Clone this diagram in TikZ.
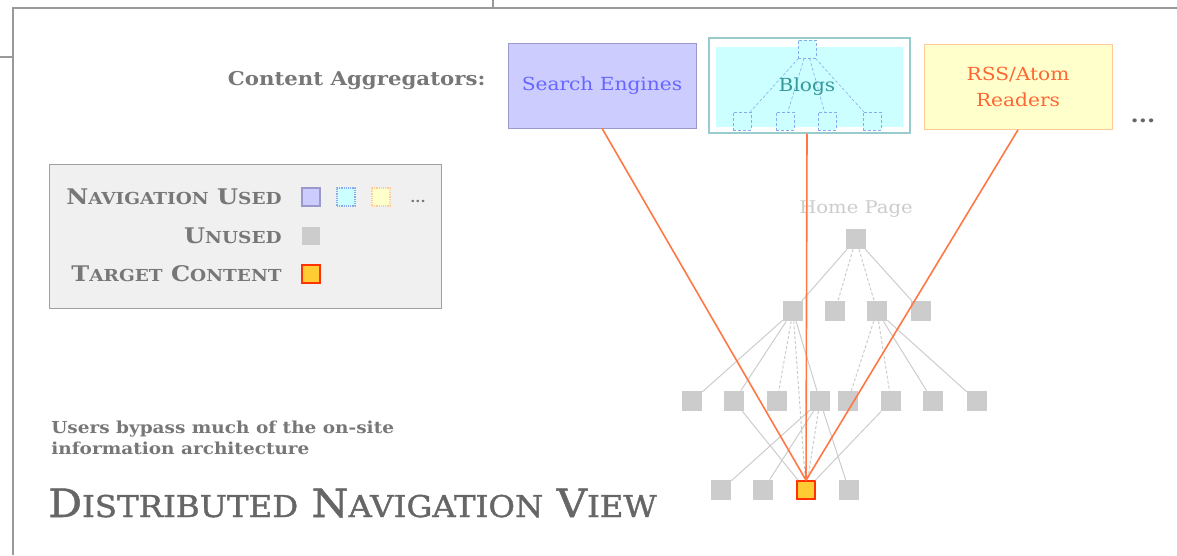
\documentclass[tikz,border=0pt]{standalone}
\usepackage{fontspec}
\setmainfont[FakeStretch=1.12]{DejaVu Serif}
\newfontfamily\titleserif[FakeStretch=1.08,FakeBold=1.3]{DejaVu Serif}
\usetikzlibrary{positioning}

\definecolor{lavender}{HTML}{CCCCFF}
\definecolor{lavedge}{HTML}{9999CC}
\definecolor{searchtext}{HTML}{6666FF}
\definecolor{blogcyan}{HTML}{CCFFFF}
\definecolor{blogedge}{HTML}{99CCCC}
\definecolor{blogline}{HTML}{88AAEE}
\definecolor{blogtext}{HTML}{339999}
\definecolor{rssyellow}{HTML}{FFFFCC}
\definecolor{rssedge}{HTML}{FFCC99}
\definecolor{rsstext}{HTML}{FF6633}
\definecolor{navline}{HTML}{FF7744}
\definecolor{pagegray}{HTML}{CCCCCC}
\definecolor{legendbg}{HTML}{F0F0F0}
\definecolor{legendedge}{HTML}{A0A0A0}
\definecolor{labelgray}{HTML}{777777}
\definecolor{titlegray}{HTML}{666666}
\definecolor{targetfill}{HTML}{FFCC33}
\definecolor{targetedge}{HTML}{FF3300}
\definecolor{framegray}{HTML}{999999}

% fake small caps: first letter full size, rest in \scsmall
\newcommand{\fsc}[2]{#1{\scsmall #2}}

\begin{document}
\begin{tikzpicture}[x=1pt,y=-1pt,semithick]
  \tikzstyle{page}=[fill=pagegray,minimum size=20pt,inner sep=0pt]
  \tikzstyle{target}=[fill=targetfill,draw=targetedge,line width=1.5pt,minimum size=18pt,inner sep=0pt]
  \tikzstyle{swatch}=[minimum size=18pt,inner sep=0pt,line width=1.2pt]
  \tikzstyle{aggbox}=[minimum width=188pt,minimum height=85pt,inner sep=0pt,align=center,
                      font=\fontsize{18}{26}\selectfont]
  \tikzstyle{blogpage}=[fill=blogcyan,draw=blogline,densely dashed,minimum size=18pt,inner sep=0pt]
  \tikzstyle{link}=[draw=pagegray,line width=1pt]
  \tikzstyle{dlink}=[draw=pagegray,line width=1pt,densely dashed]
  \tikzstyle{nav}=[draw=navline,line width=1.6pt]
  \tikzstyle{legendtext}=[anchor=east,text=labelgray,inner sep=0pt,
                          font={\def\scsmall{\fontsize{16.5}{19}\selectfont}\fontsize{21.5}{24}\selectfont\bfseries}]

  \useasboundingbox (0,0) rectangle (1177,555);

  % screenshot frame
  \draw[framegray,line width=1.5pt] (13,555) -- (13,8) -- (1177,8);
  \draw[framegray,line width=1.5pt] (0,57) -- (13,57);
  \draw[framegray,line width=1.5pt] (493,0) -- (493,8);

  % aggregators
  \node[text=labelgray,anchor=east,font=\fontsize{19}{22}\selectfont\bfseries] (agg) at (489,81) {Content Aggregators:};
  \node[aggbox,fill=lavender,draw=lavedge,text=searchtext] (search) at (602,85.5) {Search Engines};
  \node[aggbox,fill=rssyellow,draw=rssedge,text=rsstext] (rss) at (1018,87) {RSS/Atom\\Readers};
  \node[minimum width=201pt,minimum height=95pt,fill=white,draw=blogedge,line width=1.2pt,inner sep=0pt] (blogs) at (809.5,85.5) {};
  \fill[blogcyan] (716,47) rectangle (903,127);
  \node[blogpage] (blog0) at (807,49) {};
  \node[blogpage] (blog1) at (742,121) {};
  \node[blogpage] (blog2) at (785,121) {};
  \node[blogpage] (blog3) at (827,121) {};
  \node[blogpage] (blog4) at (872,121) {};
  \foreach \b in {blog1,blog2,blog3,blog4}
    \draw[blogline,densely dashed] (blog0) -- (\b);
  \node[text=blogtext,font=\fontsize{18}{20}\selectfont] (blogtxt) at (807,87) {Blogs};
  \node[text=titlegray,font=\fontsize{21}{22}\selectfont\bfseries] (more) at (1143,121) {...};

  % legend
  \node[fill=legendbg,draw=legendedge,minimum width=392pt,minimum height=144pt] (legend) at (245,236) {};
  \node[legendtext] (lused) at (282,197) {\fsc{N}{AVIGATION} \fsc{U}{SED}};
  \node[legendtext] (lunused) at (282,236) {\fsc{U}{NUSED}};
  \node[legendtext] (ltarget) at (282,274) {\fsc{T}{ARGET} \fsc{C}{ONTENT}};
  \node[swatch,fill=lavender,draw=lavedge] (sw1) at (311,197) {};
  \node[swatch,fill=blogcyan,draw=blogline,densely dotted] (sw2) at (346,197) {};
  \node[swatch,fill=rssyellow,draw=rssedge,densely dotted] (sw3) at (381,197) {};
  \node[text=labelgray,font=\fontsize{13}{14}\selectfont\bfseries] (swmore) at (418,201) {...};
  \node[swatch,fill=pagegray] (sw4) at (311,236) {};
  \node[swatch,fill=targetfill,draw=targetedge] (sw5) at (311,274) {};

  % site tree
  \node[text=pagegray,font=\fontsize{17.5}{19}\selectfont] (hometxt) at (856,209) {Home Page};
  \node[page] (home) at (856,239) {};
  \node[page] (a2) at (793,311) {};
  \node[page] (b2) at (835,311) {};
  \node[page] (c2) at (877,311) {};
  \node[page] (d2) at (921,311) {};
  \node[page] (a3) at (692,401) {};
  \node[page] (b3) at (734,401) {};
  \node[page] (c3) at (777,401) {};
  \node[page] (d3) at (820,401) {};
  \node[page] (e3) at (848,401) {};
  \node[page] (f3) at (891,401) {};
  \node[page] (g3) at (933,401) {};
  \node[page] (h3) at (977,401) {};
  \node[page] (a4) at (721,490) {};
  \node[page] (b4) at (763,490) {};
  \node[target] (tgt) at (806,490) {};
  \node[page] (d4) at (849,490) {};

  \path (home) edge[link]  (a2)
        (home) edge[dlink] (b2)
        (home) edge[dlink] (c2)
        (home) edge[link]  (d2)
        (a2) edge[link]  (a3)
        (a2) edge[link]  (b3)
        (a2) edge[dlink] (c3)
        (a2) edge[dlink] (tgt)
        (a2) edge[link]  (d3)
        (c2) edge[dlink] (e3)
        (c2) edge[dlink] (f3)
        (c2) edge[link]  (g3)
        (c2) edge[link]  (h3)
        (b3) edge[link]  (tgt)
        (d3) edge[link]  (a4)
        (d3) edge[link]  (b4)
        (d3) edge[dlink] (tgt)
        (d3) edge[link]  (d4)
        (f3) edge[link]  (tgt);

  % aggregator links straight to the target page
  \path (search.south)          edge[nav] (tgt.north)
        (blog0 |- blogs.south)  edge[nav] (tgt.north)
        (rss.south)             edge[nav] (tgt.north);

  % captions
  \node[anchor=north west,align=left,text=labelgray,inner sep=0pt,
        font=\fontsize{16.5}{21}\selectfont\bfseries] (note) at (51,421)
        {Users bypass much of the on-site\\information architecture};
  \node[anchor=base west,text=titlegray,inner sep=0pt,
        font={\def\scsmall{\fontsize{30}{32}\selectfont}\titleserif\fontsize{39}{40}\selectfont}] (title) at (48,517)
        {\fsc{D}{ISTRIBUTED} \fsc{N}{AVIGATION} \fsc{V}{IEW}};
\end{tikzpicture}
\end{document}
